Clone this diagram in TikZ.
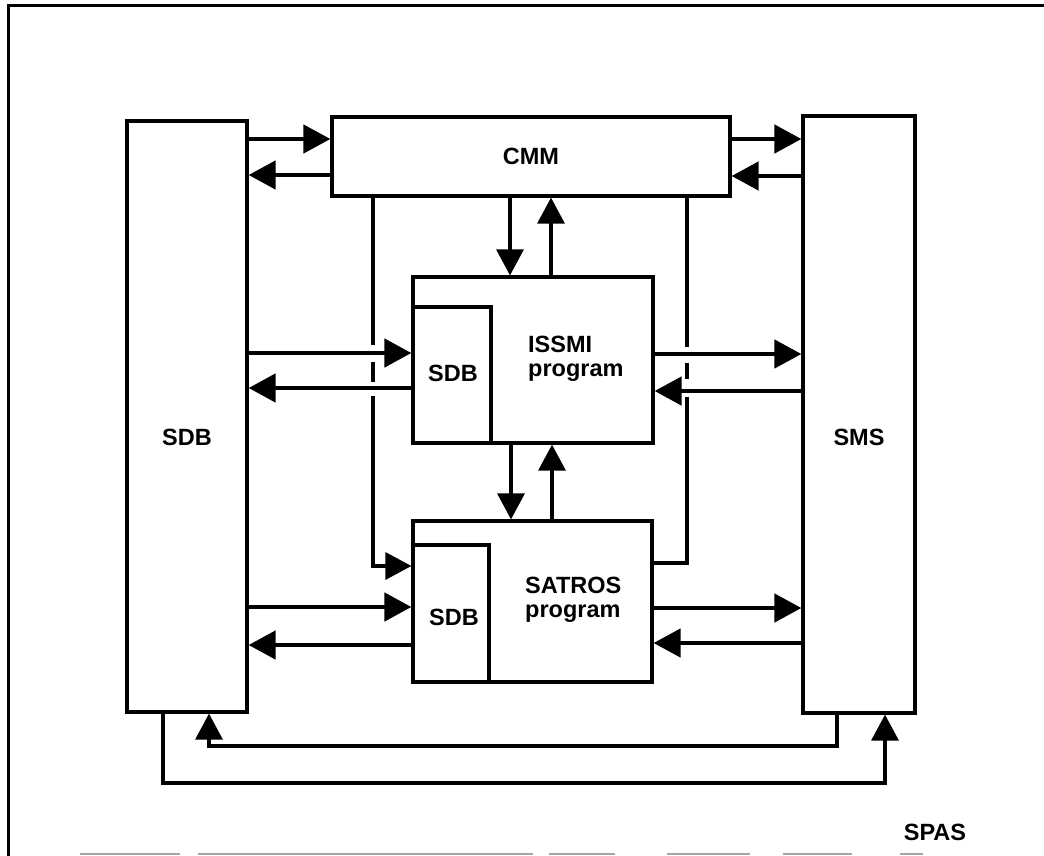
\documentclass[tikz,border=0pt]{standalone}
\usepackage{fontspec}
\setmainfont{Liberation Sans}
\usetikzlibrary{arrows.meta}
\tikzset{
  box/.style={draw, line width=3.2pt, rectangle, inner sep=0pt},
  lbl/.style={font=\fontsize{23.5}{27}\selectfont\bfseries, inner sep=0pt, align=left},
  arr/.style={line width=4.6pt, -{Triangle[length=27pt,width=28pt]}},
  link/.style={line width=3.3pt},
  larr/.style={line width=3.3pt, -{Triangle[length=26pt,width=27pt]}},
  frame/.style={line width=3pt},
  dashframe/.style={line width=2.4pt, black!35}
}
\begin{document}
\begin{tikzpicture}[x=1pt,y=-1pt]
\useasboundingbox (0,0) rectangle (1044,856);
% frame
\draw[frame] (8,856) -- (8,6) -- (1044,6);
\draw[dashframe] (80,854) -- (180,854) (198,854) -- (533,854) (549,854) -- (615,854)
  (667,854) -- (750,854) (783,854) -- (852,854) (900,854) -- (923,854);
% boxes
\node[box, minimum width=120pt, minimum height=591pt] (sdb) at (187,416.5) {};
\node[box, minimum width=398pt, minimum height=79pt] (cmm) at (531,156.5) {};
\node[box, minimum width=112pt, minimum height=597pt] (sms) at (859,414.5) {};
\node[box, minimum width=240pt, minimum height=166pt] (issmi) at (533,360) {};
\node[box, minimum width=78pt, minimum height=136pt] (issmisdb) at (452,375) {};
\node[box, minimum width=239pt, minimum height=161pt] (satros) at (532.5,601.5) {};
\node[box, minimum width=76pt, minimum height=137pt] (satrossdb) at (451,613.5) {};
% labels
\node[lbl] (tsdb) at (187,437) {SDB};
\node[lbl] (tsms) at (859,437) {SMS};
\node[lbl] (tcmm) at (531,156) {CMM};
\node[lbl, anchor=west] (tissmi) at (528,359) {ISSMI\\[-3pt]program};
\node[lbl] (tisdb) at (453,373) {SDB};
\node[lbl, anchor=west] (tsatros) at (525,600) {SATROS\\[-3pt]program};
\node[lbl] (tssdb) at (454,617) {SDB};
\node[lbl] (tspas) at (935,832) {SPAS};
% SDB <-> CMM <-> SMS
\draw[arr] (sdb.east |- 0,139) -- (cmm.west |- 0,139);
\draw[arr] (cmm.west |- 0,175) -- (sdb.east |- 0,175);
\draw[arr] (cmm.east |- 0,139) -- (sms.west |- 0,139);
\draw[arr] (sms.west |- 0,176) -- (cmm.east |- 0,176);
% CMM <-> ISSMI <-> SATROS
\draw[larr] (cmm.south -| 510,0) -- (issmi.north -| 510,0);
\draw[larr] (issmi.north -| 551,0) -- (cmm.south -| 551,0);
\draw[larr] (issmi.south -| 511,0) -- (satros.north -| 511,0);
\draw[larr] (satros.north -| 552,0) -- (issmi.south -| 552,0);
% SDB <-> ISSMI <-> SMS
\draw[arr] (sdb.east |- 0,353) -- (issmi.west |- 0,353);
\draw[arr] (issmi.west |- 0,388) -- (sdb.east |- 0,388);
\draw[arr] (issmi.east |- 0,354) -- (sms.west |- 0,354);
\draw[arr] (sms.west |- 0,391) -- (issmi.east |- 0,391);
% SDB <-> SATROS <-> SMS
\draw[arr] (sdb.east |- 0,607) -- (satros.west |- 0,607);
\draw[arr] (satros.west |- 0,645) -- (sdb.east |- 0,645);
\draw[arr] (satros.east |- 0,608) -- (sms.west |- 0,608);
\draw[arr] (sms.west |- 0,643) -- (satros.east |- 0,643);
% CMM -> SATROS (left, with crossing gaps)
\draw[larr] (cmm.south -| 373,0) -- (373,345) (373,362) -- (373,382)
  (373,396) -- (373,566) -- (satros.west |- 0,566);
% CMM -- SATROS (right, with crossing gaps)
\draw[link] (cmm.south -| 687,0) -- (687,347) (687,363) -- (687,379)
  (687,397) -- (687,563) -- (satros.east |- 0,563);
% feedback loops at the bottom
\draw[larr] (sms.south -| 837,0) -- (837,746) -- (209,746) -- (sdb.south -| 209,0);
\draw[larr] (sdb.south -| 163,0) -- (163,783) -- (885,783) -- (sms.south -| 885,0);
\end{tikzpicture}
\end{document}
